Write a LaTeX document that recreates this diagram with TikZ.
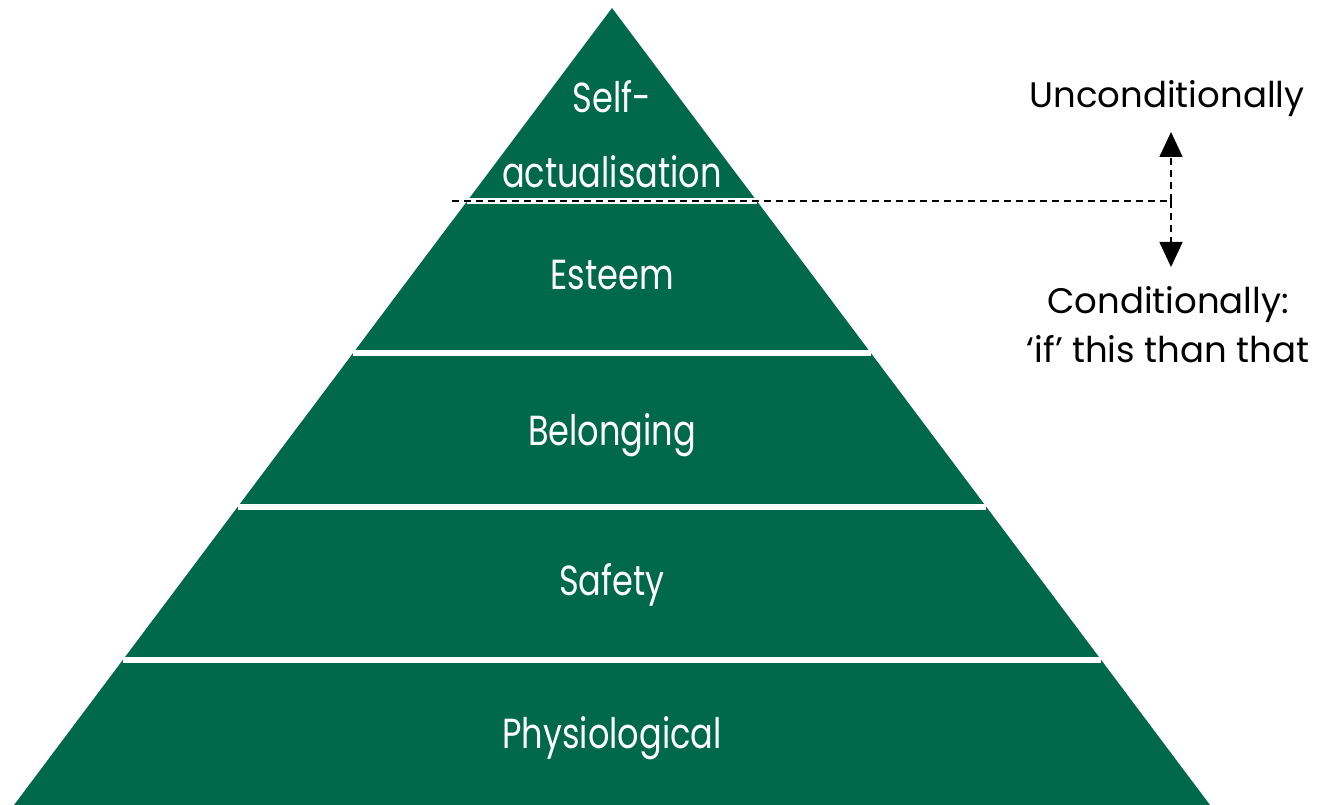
\documentclass[tikz,border=0pt]{standalone}
\usepackage{fontspec}
\setmainfont{Poppins}
\newfontfamily\levelfont[FakeStretch=0.8]{Poppins}
\usepgflibrary{arrows.meta}
\usetikzlibrary{calc}
\definecolor{pyrgreen}{RGB}{0,105,76}

\begin{document}
\begin{tikzpicture}[x=1pt,y=-1pt,
    lab/.style={text=white,font=\levelfont\fontsize{42}{75}\selectfont,anchor=base,align=center},
    side/.style={font=\fontsize{35.5}{49}\selectfont,anchor=base,align=center},
    gap/.style={white,line width=6pt},
    guide/.style={line width=1.6pt,dash pattern=on 7pt off 5pt}]
    \useasboundingbox (0,0) rectangle (1331,805);
    \coordinate (T) at (612,8);
    \coordinate (L) at (14,805);
    \coordinate (R) at (1210,805);
    \fill[pyrgreen] (T) -- (L) -- (R) -- cycle;
    % white gaps between the levels
    \foreach \y in {201,353,507,660}{
    \draw[gap] ($(T)!{(\y-8)/797}!(L)$) -- ($(T)!{(\y-8)/797}!(R)$);
    }
    % base is on the last line of a two-line node
    \foreach \y/\lab/\txt in {188/self/{Self-\\actualisation}, 290/esteem/Esteem, 445/belong/Belonging, 595/safety/Safety, 748/phys/Physiological}{
    \node[lab] (\lab) at (612,\y) {\txt};
    }
    \node[side] (uncond) at (1167,108) {Unconditionally};
    \node[side] (cond) at (1168,362) {Conditionally:\\‘if’ this than that};
    % dashed split with the two-way arrow
    \coordinate (dashstart) at (452,201);
    \coordinate (junc) at (1171,201);
    \coordinate (up) at (1171,132);
    \coordinate (down) at (1171,267);
    \draw[guide] (dashstart) -- (junc);
    \draw[guide,-{Triangle[length=25pt,width=23pt]}] (junc) -- (up);
    \draw[guide,-{Triangle[length=25pt,width=23pt]}] (junc) -- (down);
\end{tikzpicture}
\end{document}
